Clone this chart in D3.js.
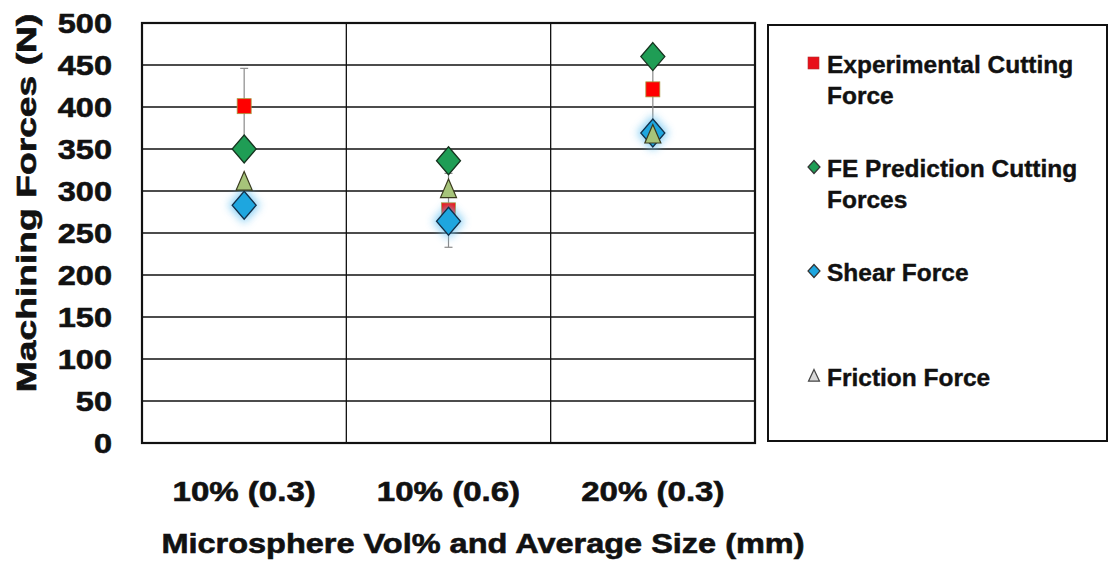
<!DOCTYPE html>
<html lang="en">
<head>
    <meta charset="UTF-8">
    <title>Machining Forces</title>
    <script src="https://d3js.org/d3.v7.min.js"></script>
    <style>
        body { margin: 0; background: #ffffff; }
        svg { display: block; }
        text { font-family: "Liberation Sans", Arial, sans-serif; font-weight: bold; fill: #111; stroke: #111; stroke-width: 0.6px; }
    </style>
</head>
<body>
    <svg width="1109" height="565"></svg>
    <script>
        // datos
        const categories = ["10% (0.3)", "10% (0.6)", "20% (0.3)"];
        const experimental = [401, 277, 421];
        const experimentalErr = [45, 44, 40];
        const fePrediction = [350, 336, 460];
        const shearForce = [283, 264, 369];
        const frictionForce = [309, 300, 365];
        const yTicks = [0, 50, 100, 150, 200, 250, 300, 350, 400, 450, 500];
        const legendLines = [
            ["Experimental Cutting", "Force"],
            ["FE Prediction Cutting", "Forces"],
            ["Shear Force"],
            ["Friction Force"]
        ];

        const svg = d3.select("svg");
        const plotLeft = 142, plotRight = 755, plotTop = 23, plotBottom = 443;

        const x = d3.scaleBand().domain(categories).range([plotLeft, plotRight]);
        const y = d3.scaleLinear().domain([0, 500]).range([plotBottom, plotTop]);
        const cx = i => x(categories[i]) + x.bandwidth() / 2;

        // estira el texto a lo ancho como en la imagen
        function stretch(sel, k) {
            sel.each(function() {
                const w = this.getComputedTextLength();
                d3.select(this).attr("textLength", w * k).attr("lengthAdjust", "spacingAndGlyphs");
            });
        }

        const defs = svg.append("defs");
        defs.append("filter").attr("id", "glow")
            .attr("x", "-60%").attr("y", "-60%").attr("width", "220%").attr("height", "220%")
            .append("feGaussianBlur").attr("stdDeviation", 4);

        // rejilla
        svg.append("g").selectAll("line").data(yTicks).join("line")
            .attr("x1", plotLeft).attr("x2", plotRight)
            .attr("y1", d => y(d)).attr("y2", d => y(d))
            .attr("stroke", "#111").attr("stroke-width", 1.3);

        svg.append("g").selectAll("line").data(categories.slice(1)).join("line")
            .attr("x1", d => x(d)).attr("x2", d => x(d))
            .attr("y1", plotTop).attr("y2", plotBottom)
            .attr("stroke", "#111").attr("stroke-width", 1.3);

        svg.append("rect")
            .attr("x", plotLeft).attr("y", plotTop)
            .attr("width", plotRight - plotLeft).attr("height", plotBottom - plotTop)
            .attr("fill", "none").attr("stroke", "#111").attr("stroke-width", 2.2);

        // etiquetas eje y
        svg.append("g").selectAll("text").data(yTicks).join("text")
            .attr("x", 112).attr("y", d => y(d) + 10)
            .attr("text-anchor", "end")
            .style("font-size", "28px")
            .text(d => d)
            .call(stretch, 1.16);

        // etiquetas eje x
        svg.append("g").selectAll("text").data(categories).join("text")
            .attr("x", (d, i) => cx(i)).attr("y", 501)
            .attr("text-anchor", "middle")
            .style("font-size", "28px")
            .text(d => d)
            .call(stretch, 1.18);

        svg.append("text")
            .attr("x", 483).attr("y", 553)
            .attr("text-anchor", "middle")
            .style("font-size", "28px")
            .text("Microsphere Vol% and Average Size (mm)")
            .call(stretch, 1.16);

        svg.append("text")
            .attr("transform", "translate(36,203) rotate(-90)")
            .attr("text-anchor", "middle")
            .style("font-size", "28px")
            .text("Machining Forces (N)")
            .call(stretch, 1.33);

        // formas de marcadores
        const diamond = (w, h) => `M0,${-h}L${w},0L0,${h}L${-w},0Z`;
        const triangle = (w, h) => `M0,${-h}L${w},${h * 0.55}L${-w},${h * 0.55}Z`;

        const marks = svg.append("g");

        // barras de error
        experimental.forEach((v, i) => {
            const g = marks.append("g").attr("stroke", "#8a8a8a").attr("stroke-width", 1.2);
            g.append("line").attr("x1", cx(i)).attr("x2", cx(i))
                .attr("y1", y(v + experimentalErr[i])).attr("y2", y(v - experimentalErr[i]));
            [v + experimentalErr[i], v - experimentalErr[i]].forEach(e => {
                g.append("line").attr("x1", cx(i) - 4).attr("x2", cx(i) + 4)
                    .attr("y1", y(e)).attr("y2", y(e));
            });
        });

        marks.selectAll(".exp").data(experimental).join("rect")
            .attr("class", "exp")
            .attr("x", (d, i) => cx(i) - 7).attr("y", d => y(d) - 7.5)
            .attr("width", 14).attr("height", 15)
            .attr("fill", "#ff0000").attr("stroke", "#a89a40").attr("stroke-width", 0.8);

        marks.selectAll(".fe").data(fePrediction).join("path")
            .attr("class", "fe")
            .attr("transform", (d, i) => `translate(${cx(i)},${y(d)})`)
            .attr("d", diamond(12, 14))
            .attr("fill", "#1f9d55").attr("stroke", "#16331f").attr("stroke-width", 1.3);

        marks.selectAll(".glow").data(shearForce).join("path")
            .attr("class", "glow")
            .attr("transform", (d, i) => `translate(${cx(i)},${y(d)})`)
            .attr("d", diamond(16, 18))
            .attr("fill", "#6cc4f2").attr("opacity", 0.8)
            .attr("filter", "url(#glow)");

        marks.selectAll(".shear").data(shearForce).join("path")
            .attr("class", "shear")
            .attr("transform", (d, i) => `translate(${cx(i)},${y(d)})`)
            .attr("d", diamond(12, 14))
            .attr("fill", "#1ea6df").attr("stroke", "#12304a").attr("stroke-width", 1.3);

        marks.selectAll(".fric").data(frictionForce).join("path")
            .attr("class", "fric")
            .attr("transform", (d, i) => `translate(${cx(i)},${y(d)})`)
            .attr("d", triangle(8, 12))
            .attr("fill", "#a6c47a").attr("stroke", "#3a3a1e").attr("stroke-width", 1.2);

        // leyenda
        svg.append("rect")
            .attr("x", 768).attr("y", 25).attr("width", 339).attr("height", 416)
            .attr("fill", "#fff").attr("stroke", "#111").attr("stroke-width", 2);

        const legendY = [63, 167, 271, 376];
        const lg = svg.append("g");
        lg.append("rect").attr("x", 808).attr("y", legendY[0] - 6).attr("width", 11).attr("height", 12)
            .attr("fill", "#e8101a").attr("stroke", "#b03030").attr("stroke-width", 0.6);
        lg.append("path").attr("transform", `translate(814,${legendY[1]})`).attr("d", diamond(6, 6.5))
            .attr("fill", "#1f9d55").attr("stroke", "#333").attr("stroke-width", 1.2);
        lg.append("path").attr("transform", `translate(814,${legendY[2]})`).attr("d", diamond(6, 6.5))
            .attr("fill", "#1ea6df").attr("stroke", "#333").attr("stroke-width", 1.2);
        lg.append("path").attr("transform", `translate(814,${legendY[3] + 1})`).attr("d", triangle(5.5, 7.5))
            .attr("fill", "#d8d8d8").attr("stroke", "#444").attr("stroke-width", 1.2);

        legendLines.forEach((lines, i) => {
            lines.forEach((t, j) => {
                lg.append("text")
                    .attr("x", 827).attr("y", legendY[i] + 10 + j * 31)
                    .style("font-size", "24px")
                    .style("stroke-width", "0.4px")
                    .text(t)
                    .call(stretch, 1.02);
            });
        });
    </script>
</body>
</html>
